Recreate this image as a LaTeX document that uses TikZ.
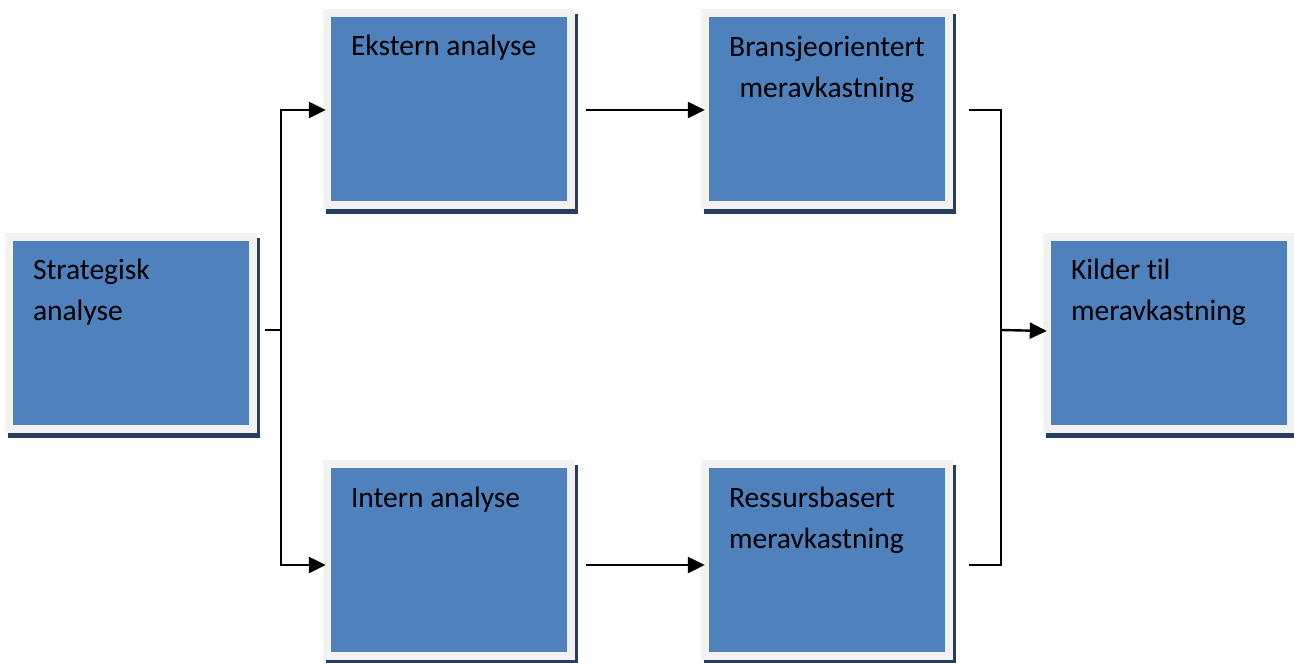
\documentclass[tikz,border=0pt]{standalone}
\usepackage{fontspec}
\setmainfont{Carlito}[Ligatures=NoCommon]
\usetikzlibrary{arrows.meta,calc,shadows}
\definecolor{boxblue}{HTML}{4F81BD}
\definecolor{framegray}{HTML}{F2F2F2}
\definecolor{shadownavy}{HTML}{243F60}
\begin{document}
\begin{tikzpicture}[x=1pt,y=-1pt,
  box/.style={rectangle, minimum width=252pt, minimum height=200pt, inner sep=0pt,
    fill=framegray,
    drop shadow={shadow xshift=3pt, shadow yshift=-5pt, fill=shadownavy, opacity=1},
    path picture={\fill[boxblue]
      ([shift={(8pt,-8pt)}]path picture bounding box.north west) rectangle
      ([shift={(-8pt,8pt)}]path picture bounding box.south east);}},
  lbl/.style={inner sep=0pt, font=\fontsize{29.5}{41}\selectfont, text=black},
  conn/.style={draw=black, line width=2.4pt},
  arrow/.style={conn, -{Triangle[length=17pt,width=16pt]}}]
\useasboundingbox (0,0) rectangle (1294,662);

% boxes
\node[box] (strat) at (131,333) {};
\node[box] (ext)   at (449,109) {};
\node[box] (bra)   at (827,109) {};
\node[box] (int)   at (449,560) {};
\node[box] (res)   at (827,560) {};
\node[box] (kil)   at (1169,333) {};

% labels (base anchor sits on the last line of a two-line label)
\node[lbl, anchor=base west, align=left] (strat-t) at ($(strat.north west)+(28,88)$) {Strategisk\\analyse};
\node[lbl, anchor=base west] (ext-t) at ($(ext.north west)+(28,47)$) {Ekstern analyse};
\node[lbl, anchor=base, align=center] (bra-t) at ($(bra.north)+(0,89)$) {Bransjeorientert\\meravkastning};
\node[lbl, anchor=base west] (int-t) at ($(int.north west)+(28,48)$) {Intern analyse};
\node[lbl, anchor=base west, align=left] (res-t) at ($(res.north west)+(28,89)$) {Ressursbasert\\meravkastning};
\node[lbl, anchor=base west, align=left] (kil-t) at ($(kil.north west)+(28,88)$) {Kilder til\\meravkastning};

% junctions
\coordinate (split) at (281,330);
\coordinate (merge) at (1001,330);

% connectors
\draw[conn] ([xshift=8pt,yshift=3pt]strat.east) -- (split);
\draw[arrow] (split) |- ([xshift=3pt,yshift=-1pt]ext.west);
\draw[arrow] (split) |- ([xshift=3pt,yshift=-5pt]int.west);
\draw[arrow] ([xshift=11pt,yshift=-1pt]ext.east) -- ([xshift=4pt,yshift=-1pt]bra.west);
\draw[arrow] ([xshift=11pt,yshift=-5pt]int.east) -- ([xshift=4pt,yshift=-5pt]res.west);
\draw[conn] ([xshift=16pt,yshift=-1pt]bra.east) -| (merge);
\draw[conn] ([xshift=16pt,yshift=-5pt]res.east) -| (merge);
\draw[arrow] (merge) -- ([xshift=4pt,yshift=2pt]kil.west);
\end{tikzpicture}
\end{document}
